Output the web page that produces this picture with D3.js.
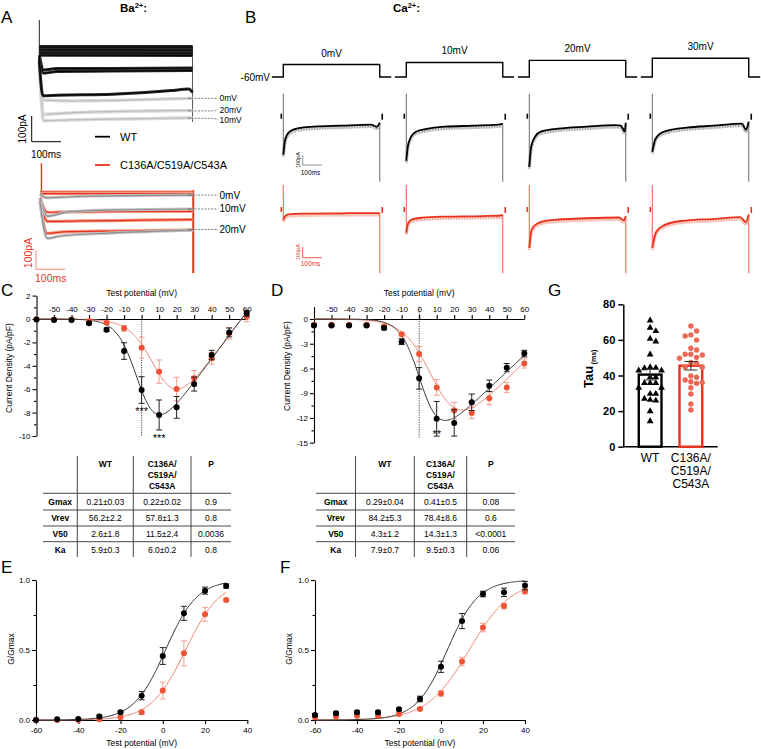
<!DOCTYPE html>
<html>
<head>
<meta charset="utf-8">
<script src="https://cdn.jsdelivr.net/npm/d3@7/dist/d3.min.js"></script>
<style>
html,body{margin:0;padding:0;background:#fff;}
svg{display:block;font-family:"Liberation Sans",Arial,Helvetica,sans-serif;}
</style>
</head>
<body>
<svg id="fig" width="761" height="749"></svg>
<script>
// ===================== DATA =====================
// Panel A : Ba2+ current traces, keypoints [time ms, current pA]
const aWTBlack = [
  [[0,14],[523,14]],
  [[0,8],[523,8]],
  [[0,2],[523,2]],
  [[0,-4],[523,-4]],
  [[0,-10],[523,-10]],
  [[0,-16],[523,-15]],
  [[0,-20],[523,-21]],
  [[0,-20],[15,-78],[60,-72],[250,-72],[523,-70]],
  [[0,-30],[15,-90],[60,-84],[250,-82],[523,-80]],
  [[0,-40],[12,-178],[60,-176],[250,-172],[450,-158],[510,-152],[523,-165]]
];
const aWTGray = [
  [[0,-40],[15,-195],[100,-198],[300,-195],[523,-188]],
  [[0,-50],[15,-250],[100,-245],[300,-238],[523,-235]],
  [[0,-55],[15,-275],[100,-272],[300,-268],[523,-264]]
];
const aWTLabels = ["0mV","20mV","10mV"];
const aWTLabelPA = [-188,-237,-266];
const aWTArtifact = [117,-280];
const aMutRed = [
  [[0,0],[523,0]],
  [[0,-8],[523,-8]],
  [[0,-30],[25,-105],[100,-103],[300,-100],[523,-100]],
  [[0,-40],[25,-152],[150,-150],[350,-146],[523,-143]],
  [[0,-50],[25,-215],[80,-207],[250,-202],[523,-196]]
];
const aMutGray = [
  [[0,-10],[20,-30],[150,-22],[523,-16]],
  [[0,-30],[25,-125],[100,-102],[250,-93],[523,-88]],
  [[0,-50],[25,-240],[70,-228],[250,-212],[523,-198]]
];
const aMutLabels = ["0mV","10mV","20mV"];
const aMutLabelPA = [-16,-88,-194];
const aMutArtifact = [150,-420];
const legendNames = ["WT","C136A/C519A/C543A"];

// Panel B : Ca2+ traces
const bSteps = ["0mV","10mV","20mV","30mV"];
const bStepMV = [0,10,20,30];
const bHoldMV = -60;
const bWT = [
  [[0,-380],[8,-250],[20,-180],[40,-140],[80,-115],[160,-100],[300,-90],[460,-80],[490,-100],[505,-60]],
  [[0,-440],[8,-300],[25,-200],[50,-150],[100,-125],[200,-100],[350,-90],[480,-80],[505,-70]],
  [[0,-500],[10,-300],[30,-200],[60,-150],[150,-120],[300,-100],[450,-85],[480,-90],[500,-150],[505,-60]],
  [[0,-350],[15,-230],[40,-170],[80,-140],[180,-110],[320,-90],[470,-70],[490,-130],[505,-50]]
];
const bMut = [
  [[0,-90],[8,-60],[25,-40],[100,-33],[300,-30],[480,-28],[505,-28]],
  [[0,-205],[10,-120],[30,-85],[80,-70],[200,-60],[400,-55],[495,-50],[505,-45]],
  [[0,-345],[12,-180],[40,-125],[100,-95],[300,-75],[470,-68],[495,-95],[505,-55]],
  [[0,-345],[20,-200],[60,-140],[150,-100],[330,-80],[460,-65],[490,-110],[505,-40]]
];
const bWTArtifact = [230,-650];
const bMutArtifact = [227,-575];

// Panels C / D : I-V relations
const ivVolts = [-60,-50,-40,-30,-20,-10,0,10,20,30,40,50,60];
const ivTicks = [-50,-40,-30,-20,-10,0,10,20,30,40,50,60];
const baIvWT = [-0.05,-0.09,-0.09,-0.37,-0.91,-2.74,-6.07,-8.2,-7.55,-5.56,-3.08,-1.15,0.49];
const baIvWTErr = [0.03,0.03,0.03,0.1,0.15,0.71,1.14,1.28,0.93,0.6,0.4,0.38,0.25];
const baIvMut = [-0.03,-0.05,-0.06,-0.17,-0.32,-0.8,-2.45,-4.5,-5.98,-5.07,-3.36,-1.22,0.2];
const baIvMutErr = [0.02,0.02,0.02,0.05,0.08,0.25,0.9,1.0,1.0,0.67,0.5,0.5,0.43];
const baFitWT = [0.2,57,-0.8,5.7];      // gmax, vrev, v50, ka
const baFitMut = [0.2,57,10,6.9];
const baSig = [[0,-7.7,"***"],[10,-10,"***"]];

const caIvWT = [-0.8,-0.8,-0.8,-0.8,-1.1,-2.75,-7.2,-12.1,-12.6,-10.1,-8.1,-5.9,-4.2];
const caIvWTErr = [0.1,0.1,0.1,0.1,0.2,0.35,1.3,2.1,1.6,1.0,0.7,0.5,0.4];
const caIvMut = [-0.7,-0.7,-0.7,-0.7,-0.9,-1.86,-4.24,-8.3,-11.1,-11.4,-9.6,-8.3,-5.4];
const caIvMutErr = [0.1,0.1,0.1,0.1,0.15,0.2,0.9,0.95,1.0,0.7,0.8,0.6,0.55];
const caFitWT = [0.2,82,1.6,5.55];
const caFitMut = [0.21,85,9.6,7.9];
const caSig = [[10,-13.7,"**"]];

// Tables
const tableRows = ["Gmax","Vrev","V50","Ka"];
const tableHeadMut = ["C136A/","C519A/","C543A"];
const baTabWT = ["0.21\u00B10.03","56.2\u00B12.2","2.6\u00B11.8","5.9\u00B10.3"];
const baTabMut = ["0.22\u00B10.02","57.8\u00B11.3","11.5\u00B12.4","6.0\u00B10.2"];
const baTabP = ["0.9","0.8","0.0036","0.8"];
const caTabWT = ["0.29\u00B10.04","84.2\u00B15.3","4.3\u00B11.2","7.9\u00B10.7"];
const caTabMut = ["0.41\u00B10.5","78.4\u00B18.6","14.3\u00B11.3","9.5\u00B10.3"];
const caTabP = ["0.08","0.6","<0.0001","0.06"];

// Panels E / F : G/Gmax
const gvVoltsBa = [-60,-50,-40,-30,-20,-10,0,10,20,30];
const gvBaWT = [0.0,0.005,0.008,0.025,0.055,0.174,0.457,0.762,0.924,0.957];
const gvBaWTErr = [0,0,0,0.01,0.01,0.03,0.06,0.05,0.025,0.015];
const gvBaMut = [0.0,0.0,0.0,0.005,0.02,0.055,0.21,0.476,0.755,0.857];
const gvBaMutErr = [0,0,0,0,0.005,0.015,0.06,0.09,0.05,0.01];
const gvBaFitWT = [1.3,7.5];
const gvBaFitMut = [10.8,8.2];
const gvVoltsCa = [-60,-50,-40,-30,-20,-10,0,10,20,30,40];
const gvCaWT = [0.035,0.048,0.055,0.055,0.076,0.15,0.38,0.707,0.9,0.912,0.96];
const gvCaWTErr = [0.01,0.01,0.01,0.01,0.01,0.02,0.04,0.054,0.02,0.03,0.03];
const gvCaMut = [0.02,0.025,0.03,0.03,0.043,0.079,0.19,0.417,0.66,0.814,0.92];
const gvCaMutErr = [0.005,0.005,0.005,0.005,0.005,0.01,0.02,0.03,0.03,0.02,0.02];
const gvCaFitWT = [3.0,7.4];
const gvCaFitMut = [13.4,10];
const gvTicks = [-60,-40,-20,0,20,40];

// Panel G : Tau
const tauGroups = ["WT","C136A/\nC519A/\nC543A"];
const tauWT = [71.2,67.1,65.2,60.9,59.4,52.1,44.9,44.6,44.4,43.1,43.1,39.3,39.3,36.0,36.0,36.0,33.4,33.4,30.0,30.0,27.2,26.2,26.6,20.2,14.6];
const tauMut = [67.8,65.0,62.2,62.8,59.9,54.3,55.3,50.2,51.9,51.9,51.5,49.7,47.4,46.9,44.6,44.6,39.7,39.0,37.5,35.6,36.5,36.0,33.1,29.6,24.0,20.6];
const tauMean = [40.5,45.5];
const tauSem = [3.0,2.4];
const tauTicks = [0,20,40,60,80];

// ===================== DRAW =====================
const svg = d3.select("#fig");
const RED = "#e8321c", RED_PT = "#ee5336", RED_LINE = "#f0846f", RED_ERR = "#f3a08e";

function addText(g, x, y, s, o = {}) {
  return g.append("text").attr("x", x).attr("y", y).text(s)
    .attr("font-size", o.size || 8)
    .attr("font-weight", o.bold ? "bold" : "normal")
    .attr("text-anchor", o.anchor || "start")
    .attr("fill", o.fill || "#000");
}
function styleAxis(sel, size, bold, sw) {
  sel.attr("font-family", null).attr("font-size", null);
  sel.selectAll("text").attr("font-size", size).attr("font-weight", bold ? "bold" : "normal").attr("fill", "#000");
  sel.selectAll("line").attr("stroke", "#000").attr("stroke-width", sw);
  sel.select(".domain").attr("stroke", "#000").attr("stroke-width", sw);
}
const fmt = d => String(d);
// spread label centres so that they keep a minimum gap
function spread(ys, gap) {
  const idx = ys.map((y,i) => i).sort((a,b) => ys[a]-ys[b]);
  const out = ys.slice();
  for (let k = 1; k < idx.length; k++) {
    const a = idx[k-1], b = idx[k];
    if (out[b] - out[a] < gap) {
      const shift = (gap - (out[b]-out[a])) / 2;
      out[a] -= shift; out[b] += shift;
    }
  }
  return out;
}

// panel letters
[["A",1,23],["B",245,23],["C",1,296],["D",271,296],["G",548,296],["E",1,573],["F",280,573]]
  .forEach(([t,x,y]) => addText(svg, x, y, t, {size:17}));

// ---------- Panel A ----------
(function(){
  const g = svg.append("g");
  const t1 = g.append("text").attr("x",120).attr("y",12).attr("font-size",11.5).attr("font-weight","bold");
  t1.append("tspan").text("Ba");
  t1.append("tspan").attr("font-size",7.5).attr("dy",-4).text("2+");
  t1.append("tspan").attr("dy",4).text(":");

  const aT = d3.scaleLinear().domain([0,100]).range([0,29.3]);
  const aIwt = d3.scaleLinear().domain([0,-100]).range([0,25.7]);
  const aImut = d3.scaleLinear().domain([0,-100]).range([0,19.3]);
  const wx0 = 39.3, wy0 = 50, mx0 = 40, my0 = 192;

  function trace(pts, x0, y0, iS, core, band, cw, bw) {
    const ln = d3.line().x(d => x0 + aT(d[0])).y(d => y0 + iS(d[1])).curve(d3.curveMonotoneX);
    if (band) g.append("path").attr("d", ln(pts)).attr("fill","none").attr("stroke",band).attr("stroke-width",bw).attr("stroke-linejoin","round");
    g.append("path").attr("d", ln(pts)).attr("fill","none").attr("stroke",core).attr("stroke-width",cw).attr("stroke-linejoin","round");
  }
  // WT
  g.append("line").attr("x1",wx0).attr("x2",wx0).attr("y1",wy0+aIwt(aWTArtifact[0])).attr("y2",wy0+aIwt(-60)).attr("stroke","#222").attr("stroke-width",1);
  g.append("line").attr("x1",wx0+aT(523)).attr("x2",wx0+aT(523)).attr("y1",wy0+aIwt(15)).attr("y2",wy0+aIwt(aWTArtifact[1])).attr("stroke","#555").attr("stroke-width",1);
  aWTGray.forEach(p => trace(p, wx0, wy0, aIwt, "#bdbdbd", "#dcdcdc", 1.2, 3.5));
  aWTBlack.forEach(p => trace(p, wx0, wy0, aIwt, "#000", "#2a2a2a", 1, 3));
  const wYs = aWTLabelPA.map(v => wy0 + aIwt(v));
  const wTy = spread(wYs, 10.2);
  aWTLabels.forEach((l,i) => {
    g.append("path").attr("d",`M${wx0+aT(508)},${wYs[i]}H214L218,${wTy[i]}`).attr("fill","none")
      .attr("stroke","#444").attr("stroke-width",0.7).attr("stroke-dasharray","2,1.3");
    addText(g, 219.5, wTy[i]+3.1, l, {size:8.5});
  });
  // WT scale bar
  g.append("path").attr("d",`M31.7,${141.7-aIwt(-100)}V141.7H${31.7+aT(100)}`).attr("fill","none").attr("stroke","#000").attr("stroke-width",1);
  addText(g, 0, 0, "100pA", {size:10, anchor:"middle"}).attr("transform","translate(25.5,129) rotate(-90)");
  addText(g, 31, 158, "100ms", {size:10});
  // legend
  g.append("line").attr("x1",95).attr("x2",110).attr("y1",136.7).attr("y2",136.7).attr("stroke","#000").attr("stroke-width",1.8);
  addText(g, 120, 140.7, legendNames[0], {size:11});
  g.append("line").attr("x1",95).attr("x2",110).attr("y1",165).attr("y2",165).attr("stroke",RED).attr("stroke-width",1.8);
  addText(g, 120, 169, legendNames[1], {size:11});

  // Mutant
  g.append("line").attr("x1",mx0+aT(5)).attr("x2",mx0+aT(5)).attr("y1",my0+aImut(aMutArtifact[0])).attr("y2",my0+aImut(-60)).attr("stroke",RED).attr("stroke-width",1.4);
  g.append("line").attr("x1",mx0+aT(523)).attr("x2",mx0+aT(523)).attr("y1",my0+aImut(10)).attr("y2",my0+aImut(aMutArtifact[1])).attr("stroke",RED).attr("stroke-width",2);
  aMutRed.forEach(p => trace(p, mx0, my0, aImut, RED, "#f29a88", 1.2, 3.2));
  aMutGray.forEach(p => trace(p, mx0, my0, aImut, "#8f8f8f", "#c4c4c4", 1.2, 3));
  aMutLabels.forEach((l,i) => {
    const y = my0 + aImut(aMutLabelPA[i]);
    g.append("line").attr("x1",mx0+aT(505)).attr("x2",218).attr("y1",y).attr("y2",y).attr("stroke","#444").attr("stroke-width",0.7).attr("stroke-dasharray","2,1.3");
    addText(g, 219.5, y+3.5, l, {size:10});
  });
  g.append("path").attr("d",`M36,${269.3-aImut(-100)}V269.3H${36+aT(100)}`).attr("fill","none").attr("stroke",RED_ERR).attr("stroke-width",1.2);
  addText(g, 0, 0, "100pA", {size:10.5, anchor:"middle", fill:RED}).attr("transform","translate(31.5,253) rotate(-90)");
  addText(g, 35, 282, "100ms", {size:10.5, fill:RED});
})();

// ---------- Panel B ----------
(function(){
  const g = svg.append("g");
  const t1 = g.append("text").attr("x",393).attr("y",12).attr("font-size",11.5).attr("font-weight","bold");
  t1.append("tspan").text("Ca");
  t1.append("tspan").attr("font-size",7.5).attr("dy",-4).text("2+");
  t1.append("tspan").attr("dy",4).text(":");

  const bT = d3.scaleLinear().domain([0,100]).range([0,19.1]);
  const bV = d3.scaleLinear().domain([-60,30]).range([77,58.3]);
  const bIk = d3.scaleLinear().domain([0,-100]).range([0,10]);
  const bIr = d3.scaleLinear().domain([0,-100]).range([0,11]);
  const bX = d3.scaleBand().domain(bSteps).range([283.3, 283.3 + 123*4]);
  const pulse = 505, hold = 60;
  const yK = 116.7, yR = 210;

  addText(g, 270, 81, bHoldMV + "mV", {size:10, anchor:"end"});
  bSteps.forEach((s,i) => {
    const x0 = bX(s);
    const yH = bV(bHoldMV), yS = bV(bStepMV[i]);
    g.append("path").attr("d",`M${x0-bT(hold)},${yH}H${x0}V${yS}H${x0+bT(pulse)}V${yH}H${x0+bT(pulse)+bT(hold)}`)
      .attr("fill","none").attr("stroke","#000").attr("stroke-width",1.4);
    addText(g, x0 + bT(pulse)/2, yS - 8, s, {size:10, anchor:"middle"});

    [[bWT[i], yK, bIk, "#000", "#a0a0a0", bWTArtifact, "#444"], [bMut[i], yR, bIr, RED, "#f4a494", bMutArtifact, RED]]
      .forEach(([pts, y0, iS, col, band, art, artCol]) => {
        const xe = x0 + bT(pulse);
        g.append("line").attr("x1",x0).attr("x2",x0).attr("y1",y0+iS(art[0])).attr("y2",y0+iS(pts[0][1])).attr("stroke",artCol).attr("stroke-width",0.8);
        g.append("line").attr("x1",xe).attr("x2",xe).attr("y1",y0+iS(pts[pts.length-1][1])).attr("y2",y0+iS(art[1])).attr("stroke",artCol).attr("stroke-width",0.8);
        g.append("line").attr("x1",x0-2).attr("x2",x0-2).attr("y1",y0-3).attr("y2",y0+2).attr("stroke",col).attr("stroke-width",1.6);
        g.append("line").attr("x1",xe+2.5).attr("x2",xe+2.5).attr("y1",y0-3).attr("y2",y0+3).attr("stroke",col).attr("stroke-width",1.6);
        const ln = d3.line().x(d => x0 + bT(d[0])).y(d => y0 + iS(d[1])).curve(d3.curveMonotoneX);
        const lnB = d3.line().x(d => x0 + bT(d[0])).y(d => y0 + iS(d[1]) + 1.8).curve(d3.curveMonotoneX);
        g.append("path").attr("d", lnB(pts)).attr("fill","none").attr("stroke",band).attr("stroke-width",3.2).attr("stroke-dasharray","1,0.6");
        g.append("path").attr("d", ln(pts)).attr("fill","none").attr("stroke",col).attr("stroke-width",1.8);
      });
  });
  const sx = bX(bSteps[0]) + 19.4;
  g.append("path").attr("d",`M${sx},${165-bIk(-100)}V165H${sx+bT(100)}`).attr("fill","none").attr("stroke","#777").attr("stroke-width",0.8);
  addText(g, 0, 0, "100pA", {size:5.5, anchor:"middle"}).attr("transform",`translate(${sx-2.5},160) rotate(-90)`);
  addText(g, sx-2, 175, "100ms", {size:6.5});
  g.append("path").attr("d",`M${sx},${257.7-bIr(-100)}V257.7H${sx+bT(100)}`).attr("fill","none").attr("stroke",RED).attr("stroke-width",0.8);
  addText(g, 0, 0, "100pA", {size:5.5, anchor:"middle", fill:RED}).attr("transform",`translate(${sx-2.5},252) rotate(-90)`);
  addText(g, sx-2, 266, "100ms", {size:6.5, fill:RED});
})();

// ---------- Panels C / D ----------
function ivPanel(c) {
  const g = svg.append("g");
  const x = d3.scaleLinear().domain([-60,60]).range(c.xr);
  const y = d3.scaleLinear().domain(c.yd).range(c.yr);
  g.append("line").attr("x1",x(0)).attr("x2",x(0)).attr("y1",y(c.dot[0])).attr("y2",y(c.dot[1]))
    .attr("stroke","#333").attr("stroke-width",0.9).attr("stroke-dasharray","1.2,1.2");
  const ya = g.append("g").attr("transform",`translate(${c.xr[0]},0)`)
    .call(d3.axisLeft(y).tickValues(c.yMajor).tickSize(4).tickSizeOuter(0).tickPadding(2).tickFormat(fmt));
  styleAxis(ya, 8, false, 1.1);
  const ym = g.append("g").attr("transform",`translate(${c.xr[0]},0)`)
    .call(d3.axisLeft(y).tickValues(c.yMinor).tickSize(2.5).tickFormat(""));
  ym.select(".domain").remove(); styleAxis(ym, 8, false, 1.1);
  const xa = g.append("g").attr("transform",`translate(0,${y(0)})`)
    .call(d3.axisTop(x).tickValues(ivTicks).tickSize(4).tickSizeOuter(0).tickPadding(3).tickFormat(fmt));
  styleAxis(xa, 8, false, 1.1);
  addText(g, (c.xr[0]+c.xr[1])/2, 296, "Test potential (mV)", {size:8.5, anchor:"middle"});
  addText(g, 0, 0, "Current Density (pA/pF)", {size:8.5, anchor:"middle"}).attr("transform",`translate(${c.ylx},${c.yly}) rotate(-90)`);
  const boltz = (p, v) => p[0]*(v-p[1])/(1+Math.exp((p[2]-v)/p[3]));
  const vs = d3.range(-60, 60.01, 0.5);
  c.series.forEach(s => {
    g.append("path").attr("d", d3.line().x(v => x(v)).y(v => y(boltz(s.fit, v)))(vs))
      .attr("fill","none").attr("stroke",s.line).attr("stroke-width",1);
  });
  c.series.forEach(s => {
    ivVolts.forEach((v,i) => {
      const e = s.err[i]; if (e <= 0.05) return;
      const cx = x(v), y1 = y(s.vals[i]+e), y2 = y(s.vals[i]-e);
      g.append("path").attr("d",`M${cx},${y1}V${y2}M${cx-3},${y1}H${cx+3}M${cx-3},${y2}H${cx+3}`)
        .attr("fill","none").attr("stroke",s.errc).attr("stroke-width",1);
    });
    g.selectAll(null).data(ivVolts).enter().append("circle")
      .attr("cx", v => x(v)).attr("cy", (v,i) => y(s.vals[i])).attr("r",3).attr("fill",s.pt);
  });
  c.sig.forEach(([v,val,t]) => addText(g, x(v), y(val)+6.3, t, {size:11, anchor:"middle"}));
}
ivPanel({xr:[36.5,246.7], yd:[-10,2], yr:[436,295.6], yMajor:[2,0,-2,-4,-6,-8,-10], yMinor:[1,-1,-3,-5,-7,-9],
  dot:[0,-10], ylx:12, yly:368, sig:baSig,
  series:[{vals:baIvMut, err:baIvMutErr, fit:baFitMut, line:RED_LINE, errc:RED_ERR, pt:RED_PT},
          {vals:baIvWT, err:baIvWTErr, fit:baFitWT, line:"#333", errc:"#222", pt:"#000"}]});
ivPanel({xr:[314,524.3], yd:[-15,1.5], yr:[442.7,306.6], yMajor:[0,-3,-6,-9,-12,-15], yMinor:[-1.5,-4.5,-7.5,-10.5,-13.5],
  dot:[1.5,-14.5], ylx:290, yly:366, sig:caSig,
  series:[{vals:caIvMut, err:caIvMutErr, fit:caFitMut, line:RED_LINE, errc:RED_ERR, pt:RED_PT},
          {vals:caIvWT, err:caIvWTErr, fit:caFitWT, line:"#333", errc:"#222", pt:"#000"}]});

// ---------- Tables ----------
function table(cols, wt, mut, p) {
  const g = svg.append("g");
  const yTop = 456, yBot = 557, hl = [493.3,510,526,541.7], ry = [502,518,534,550];
  [1,2,3].forEach(k => g.append("line").attr("x1",cols[k]).attr("x2",cols[k]).attr("y1",yTop).attr("y2",yBot).attr("stroke","#333").attr("stroke-width",0.9));
  hl.forEach(h => g.append("line").attr("x1",cols[0]).attr("x2",cols[4]).attr("y1",h).attr("y2",h).attr("stroke","#333").attr("stroke-width",0.9));
  const mid = k => (cols[k]+cols[k+1])/2;
  addText(g, mid(1), 467.3, "WT", {size:8.5, bold:true, anchor:"middle"});
  tableHeadMut.forEach((t,i) => addText(g, mid(2), 467.3 + i*10.7, t, {size:8.5, bold:true, anchor:"middle"}));
  addText(g, mid(3), 467.3, "P", {size:8.5, bold:true, anchor:"middle"});
  tableRows.forEach((r,i) => {
    addText(g, mid(0), ry[i]+3, r, {size:8.5, bold:true, anchor:"middle"});
    addText(g, mid(1), ry[i]+3, wt[i], {size:8.5, anchor:"middle"});
    addText(g, mid(2), ry[i]+3, mut[i], {size:8.5, anchor:"middle"});
    addText(g, mid(3), ry[i]+3, p[i], {size:8.5, anchor:"middle"});
  });
}
table([43,77.3,133.3,191,231], baTabWT, baTabMut, baTabP);
table([316,355.5,414.3,466.7,515], caTabWT, caTabMut, caTabP);

// ---------- Panels E / F ----------
function gvPanel(c) {
  const g = svg.append("g");
  const x = d3.scaleLinear().domain([-60,40]).range(c.xr);
  const y = d3.scaleLinear().domain([0,1]).range([720,580]);
  const xa = g.append("g").attr("transform","translate(0,720)")
    .call(d3.axisBottom(x).tickValues(gvTicks).tickSize(4).tickSizeOuter(0).tickPadding(3).tickFormat(fmt));
  styleAxis(xa, 8, false, 1.1);
  const ya = g.append("g").attr("transform",`translate(${c.xr[0]},0)`)
    .call(d3.axisLeft(y).tickValues([0,0.5,1]).tickSize(4).tickSizeOuter(0).tickPadding(2).tickFormat(d3.format(".1f")));
  styleAxis(ya, 8, false, 1.1);
  const ym = g.append("g").attr("transform",`translate(${c.xr[0]},0)`)
    .call(d3.axisLeft(y).tickValues([0.25,0.75]).tickSize(2.5).tickFormat(""));
  ym.select(".domain").remove(); styleAxis(ym, 8, false, 1.1);
  addText(g, (c.xr[0]+c.xr[1])/2, 745.5, "Test potential (mV)", {size:8.5, anchor:"middle"});
  addText(g, 0, 0, "G/Gmax", {size:8.5, anchor:"middle"}).attr("transform",`translate(${c.ylx},649) rotate(-90)`);
  const bz = (p, v) => 1/(1+Math.exp((p[0]-v)/p[1]));
  const vs = d3.range(-60, c.fitMax+0.01, 0.5);
  c.series.forEach(s => g.append("path").attr("d", d3.line().x(v => x(v)).y(v => y(bz(s.fit, v)))(vs))
    .attr("fill","none").attr("stroke",s.line).attr("stroke-width",1));
  c.series.forEach(s => {
    c.volts.forEach((v,i) => {
      const e = s.err[i]; if (e < 0.008) return;
      const cx = x(v), y1 = y(s.vals[i]+e), y2 = y(s.vals[i]-e);
      g.append("path").attr("d",`M${cx},${y1}V${y2}M${cx-3},${y1}H${cx+3}M${cx-3},${y2}H${cx+3}`)
        .attr("fill","none").attr("stroke",s.errc).attr("stroke-width",1);
    });
    g.selectAll(null).data(c.volts).enter().append("circle")
      .attr("cx", v => x(v)).attr("cy", (v,i) => y(s.vals[i])).attr("r",3).attr("fill",s.pt);
  });
}
gvPanel({xr:[36,247.3], ylx:14, volts:gvVoltsBa, fitMax:30,
  series:[{vals:gvBaMut, err:gvBaMutErr, fit:gvBaFitMut, line:RED_LINE, errc:RED_ERR, pt:RED_PT},
          {vals:gvBaWT, err:gvBaWTErr, fit:gvBaFitWT, line:"#333", errc:"#222", pt:"#000"}]});
gvPanel({xr:[315,525], ylx:292, volts:gvVoltsCa, fitMax:40,
  series:[{vals:gvCaMut, err:gvCaMutErr, fit:gvCaFitMut, line:RED_LINE, errc:RED_ERR, pt:RED_PT},
          {vals:gvCaWT, err:gvCaWTErr, fit:gvCaFitWT, line:"#333", errc:"#222", pt:"#000"}]});

// ---------- Panel G ----------
(function(){
  const g = svg.append("g");
  const y = d3.scaleLinear().domain([0,80]).range([446.7,304.3]);
  const x = d3.scaleBand().domain(tauGroups).range([623.3,717.7]).paddingInner(0.383).paddingOuter(0.35);
  const ya = g.append("g").attr("transform","translate(623.3,0)")
    .call(d3.axisLeft(y).tickValues(tauTicks).tickSize(5).tickSizeOuter(0).tickPadding(3).tickFormat(fmt));
  styleAxis(ya, 11, true, 1.5);
  g.append("line").attr("x1",623.3).attr("x2",717.7).attr("y1",y(0)).attr("y2",y(0)).attr("stroke","#000").attr("stroke-width",1.5);
  const lab = g.append("text").attr("transform","translate(593,388) rotate(-90)").attr("font-weight","bold");
  lab.append("tspan").attr("font-size",13).text("Tau");
  lab.append("tspan").attr("font-size",7).attr("dx",1.5).attr("dy",2.5).text("(ms)");

  const cols = ["#000", RED];
  tauGroups.forEach((grp,i) => {
    g.append("rect").attr("x",x(grp)+1.2).attr("y",y(tauMean[i])).attr("width",x.bandwidth()-2.4).attr("height",y(0)-y(tauMean[i]))
      .attr("fill","none").attr("stroke",cols[i]).attr("stroke-width",2.4);
  });
  function swarm(vals, cx, spacing, minD) {
    const placed = [], out = new Array(vals.length);
    const order = vals.map((v,i) => i).sort((a,b) => vals[b]-vals[a]);
    const cands = [0]; for (let j=1;j<8;j++) cands.push(j*spacing, -j*spacing);
    order.forEach(i => {
      const py = y(vals[i]); let px = cx;
      for (const c of cands) { px = cx + c; if (placed.every(p => Math.hypot(p[0]-px, p[1]-py) >= minD)) break; }
      placed.push([px,py]); out[i] = [px,py];
    });
    return out;
  }
  const cx0 = x(tauGroups[0]) + x.bandwidth()/2, cx1 = x(tauGroups[1]) + x.bandwidth()/2;
  const pW = swarm(tauWT, cx0, 5.7, 5.5);
  g.selectAll(null).data(pW).enter().append("path")
    .attr("d", d3.symbol(d3.symbolTriangle, 20)()).attr("transform", d => `translate(${d[0]},${d[1]+0.5})`).attr("fill","#000");
  const pM = swarm(tauMut, cx1, 5.7, 5.5);
  g.selectAll(null).data(pM).enter().append("circle")
    .attr("cx", d => d[0]).attr("cy", d => d[1]).attr("r",2.7).attr("fill","#ec6a55");
  tauGroups.forEach((grp,i) => {
    const cx = x(grp) + x.bandwidth()/2, y1 = y(tauMean[i]+tauSem[i]), y2 = y(tauMean[i]-tauSem[i]);
    g.append("path").attr("d",`M${cx},${y1}V${y2}M${cx-6.5},${y1}H${cx+6.5}M${cx-6.5},${y2}H${cx+6.5}`)
      .attr("fill","none").attr("stroke","#333").attr("stroke-width",1.1);
    grp.split("\n").forEach((t,k) => addText(g, cx, 462 + k*13, t, {size:12, anchor:"middle"}));
  });
})();
</script>
</body>
</html>
